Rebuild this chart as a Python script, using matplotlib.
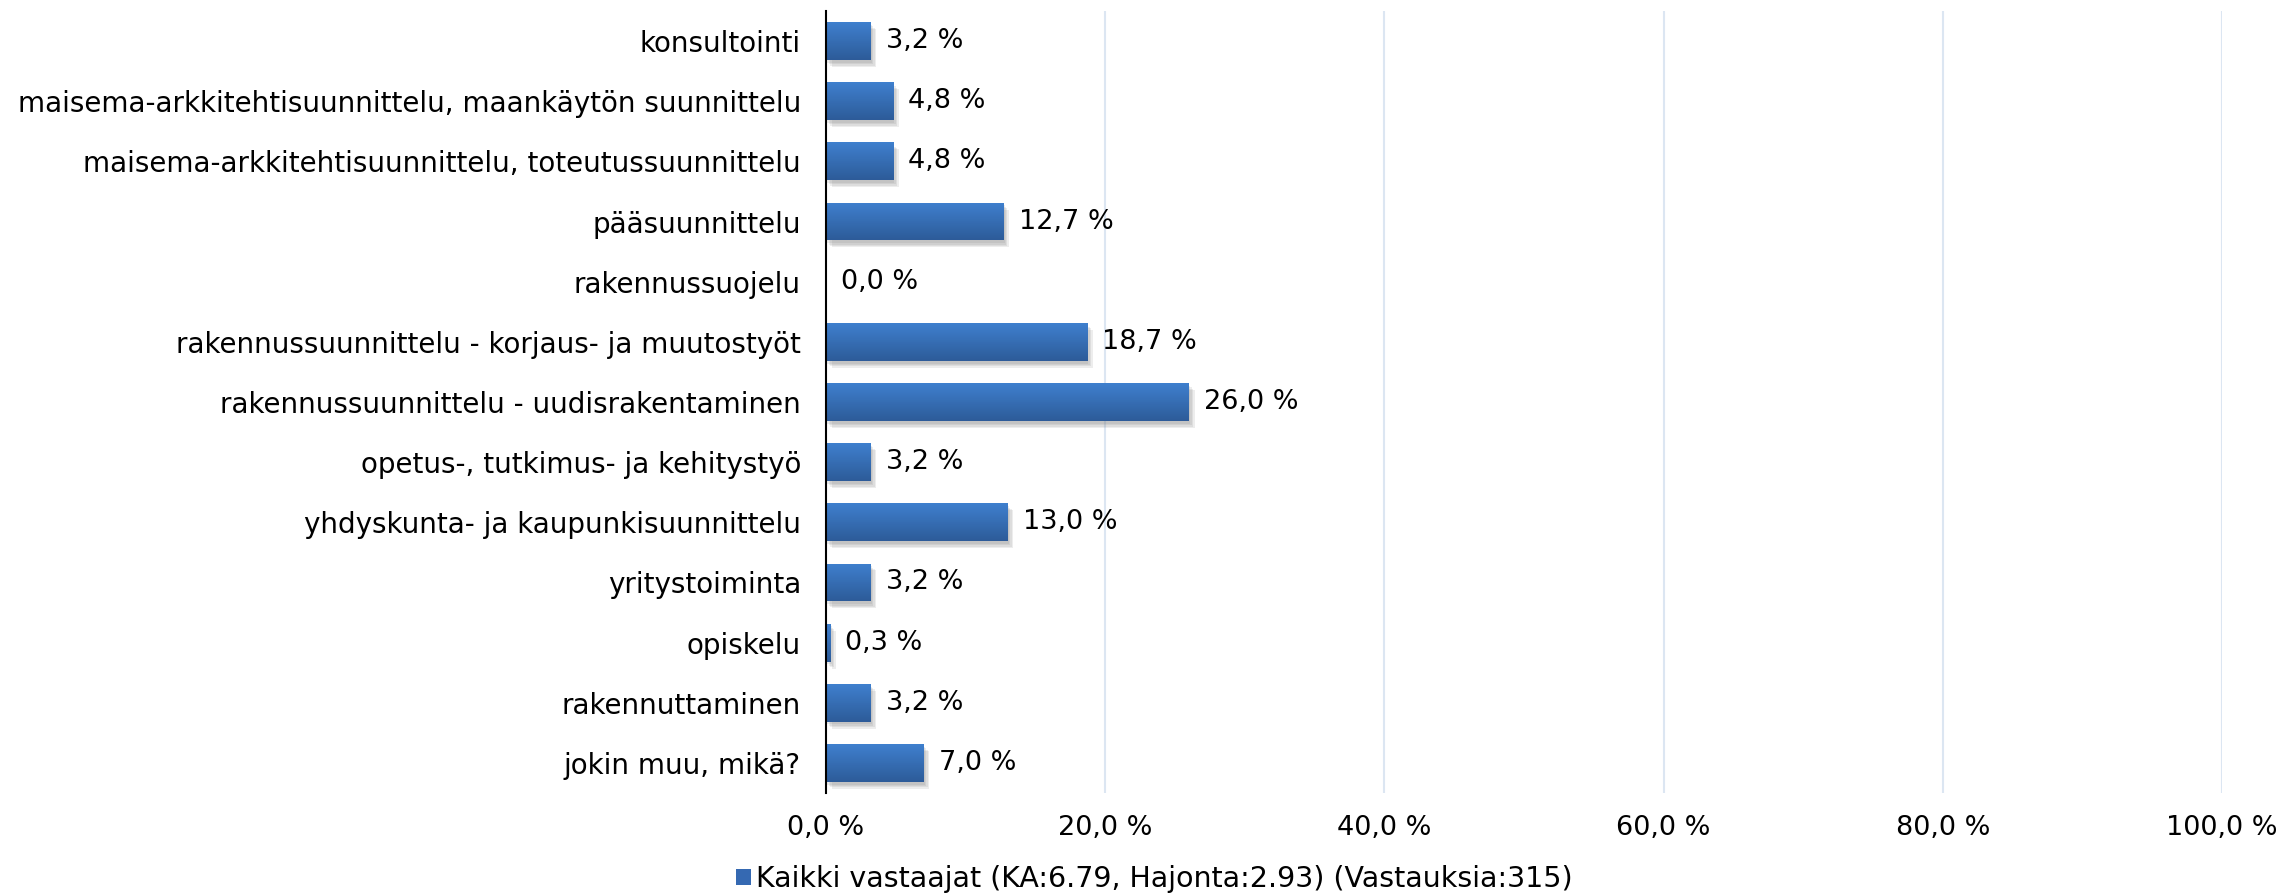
import matplotlib
matplotlib.use("Agg")
import matplotlib.pyplot as plt
import numpy as np
from matplotlib.patches import Patch
import matplotlib.patheffects as pe
from matplotlib.colors import LinearSegmentedColormap

categories = [
    "konsultointi",
    "maisema-arkkitehtisuunnittelu, maankäytön suunnittelu",
    "maisema-arkkitehtisuunnittelu, toteutussuunnittelu",
    "pääsuunnittelu",
    "rakennussuojelu",
    "rakennussuunnittelu - korjaus- ja muutostyöt",
    "rakennussuunnittelu - uudisrakentaminen",
    "opetus-, tutkimus- ja kehitystyö",
    "yhdyskunta- ja kaupunkisuunnittelu",
    "yritystoiminta",
    "opiskelu",
    "rakennuttaminen",
    "jokin muu, mikä?",
]
values = [3.2, 4.8, 4.8, 12.7, 0.0, 18.7, 26.0, 3.2, 13.0, 3.2, 0.3, 3.2, 7.0]
xticks = [0, 20, 40, 60, 80, 100]
legend_label = "Kaikki vastaajat (KA:6.79, Hajonta:2.93) (Vastauksia:315)"

font = "DejaVu Sans"
cat_size = 20
num_size = 19.5
leg_size = 20.5

W, H = 2282, 893
fig = plt.figure(figsize=(W / 100, H / 100), dpi=100)
ax = fig.add_axes([826 / W, 1 - 793 / H, (2222 - 826) / W, (793 - 11) / H])

y = np.arange(len(categories))
c_top = "#3f80ce"
c_bot = "#2d5b99"
shadow = [pe.SimplePatchShadow(offset=(o, -o - 1), shadow_rgbFace="#777777", alpha=0.13)
          for o in (1, 2, 3, 4)]
bars = ax.barh(y, values, height=0.63, color=c_top, zorder=2,
               path_effects=shadow + [pe.Normal()])

cmap = LinearSegmentedColormap.from_list("g", [c_top, c_bot])
grad = np.linspace(0, 1, 64).reshape(-1, 1)
for b in bars:
    w = b.get_width()
    if w <= 0:
        continue
    x0, y0 = b.get_x(), b.get_y()
    h = b.get_height()
    im = ax.imshow(grad, cmap=cmap, aspect="auto", origin="upper",
                   extent=[x0, x0 + w, y0 + h, y0], zorder=3, interpolation="bicubic")
    im.set_clip_path(b)

for b, v in zip(bars, values):
    ax.annotate(f"{v:.1f} %".replace(".", ","), xy=(b.get_width(), b.get_y() + b.get_height() / 2),
                xytext=(11, 0), textcoords="offset points", va="center", ha="left",
                fontsize=num_size, family=font, color="black", zorder=4)

ax.set_xlim(0, 100)
ax.set_ylim(len(categories) - 0.5, -0.5)
ax.set_yticks(y)
ax.set_yticklabels(categories, family=font, fontsize=cat_size)
ax.set_xticks(xticks)
ax.set_xticklabels([f"{t:.1f} %".replace(".", ",") for t in xticks], family=font, fontsize=num_size)
ax.tick_params(axis="y", length=0, pad=18)
ax.tick_params(axis="x", length=0, pad=16)
ax.set_aspect("auto")

for s in ["top", "right", "bottom"]:
    ax.spines[s].set_visible(False)
ax.spines["left"].set_linewidth(1.5)
ax.spines["left"].set_color("black")
ax.spines["left"].set_zorder(5)

for t in xticks[1:]:
    ax.axvline(t, color="#dce6f2", linewidth=1.5, zorder=1)

handle = Patch(facecolor="#3569b2", edgecolor="none")
fig.legend([handle], [legend_label], loc="center", bbox_to_anchor=(0.506, 1 - 879 / H),
           frameon=False, prop={"family": font, "size": leg_size},
           handlelength=0.5, handleheight=0.5, handletextpad=0.2)

fig.savefig("out.png", dpi=100)
